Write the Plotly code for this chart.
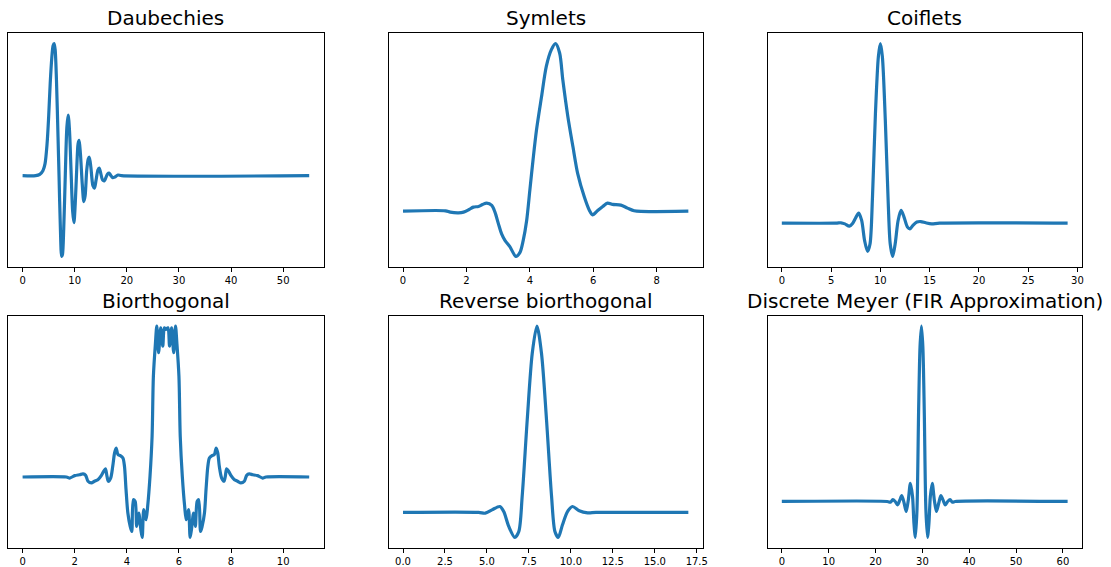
import plotly.graph_objects as go

# ---------------- data ----------------
titles = ["Daubechies", "Symlets", "Coiflets",
          "Biorthogonal", "Reverse biorthogonal", "Discrete Meyer (FIR Approximation)"]

db_x = [0, 2.5, 3.3, 3.9, 4.3, 4.7, 5.0, 5.3, 5.6, 5.85, 6.05, 6.25, 6.5, 6.8, 7.0, 7.25, 7.5, 7.65,
        7.9, 8.2, 8.5, 8.75, 9.0, 9.3, 9.6, 9.85, 10.1, 10.4, 10.65, 10.85, 11.1, 11.45, 11.75, 12.0,
        12.3, 12.6, 12.8, 13.1, 13.5, 13.8, 14.1, 14.45, 14.7, 15.0, 15.35, 15.7, 16.0, 16.3, 16.6,
        16.9, 17.3, 17.7, 18.3, 19.0, 55]
db_y = [0, 0, 0.010, 0.038, 0.089, 0.242, 0.445, 0.700, 0.891, 0.985, 1.0, 0.954, 0.725, 0.293,
        -0.013, -0.394, -0.611, -0.598, -0.394, 0.013, 0.369, 0.458, 0.344, 0.038, -0.267, -0.356,
        -0.216, 0.064, 0.242, 0.267, 0.165, -0.064, -0.196, -0.153, 0.038, 0.127, 0.140, 0.064,
        -0.076, -0.094, -0.033, 0.043, 0.058, 0.018, -0.033, -0.038, -0.013, 0.013, 0.020, 0.003,
        -0.015, -0.010, 0.005, 0, 0]

sym_x = [0, 1.34, 1.49, 1.75, 1.91, 2.07, 2.22, 2.38, 2.51, 2.64, 2.80, 2.90, 3.01, 3.11, 3.22,
         3.37, 3.56, 3.69, 3.79, 3.90, 4.0, 4.10, 4.21, 4.37, 4.52, 4.68, 4.81, 4.94, 5.04, 5.20,
         5.36, 5.51, 5.72, 5.88, 5.98, 6.14, 6.30, 6.45, 6.61, 6.87, 7.08, 7.29, 7.50, 9.0]
sym_y = [0, 0.002, -0.006, -0.010, -0.006, 0.008, 0.024, 0.028, 0.040, 0.048, 0.034, -0.006,
         -0.076, -0.136, -0.176, -0.212, -0.270, -0.246, -0.176, -0.056, 0.124, 0.304, 0.484,
         0.684, 0.864, 0.964, 1.0, 0.944, 0.784, 0.564, 0.384, 0.224, 0.084, 0.004, -0.022, 0.004,
         0.028, 0.048, 0.040, 0.036, 0.018, 0.002, -0.002, 0]

coif_x = [0, 5.5, 6.0, 6.4, 6.85, 7.2, 7.5, 7.8, 8.1, 8.4, 8.7, 8.95, 9.2, 9.5, 9.8, 10.0, 10.2,
          10.5, 10.8, 11.0, 11.25, 11.5, 11.8, 12.1, 12.4, 12.75, 13.0, 13.3, 13.7, 14.1, 14.6,
          15.2, 16, 29]
coif_y = [0, 0, 0.002, -0.004, -0.017, 0, 0.030, 0.056, 0.015, -0.097, -0.157, -0.116, 0.146,
          0.612, 0.929, 1.0, 0.929, 0.575, 0.108, -0.116, -0.185, -0.116, 0.015, 0.071, 0.034,
          -0.022, -0.032, -0.013, 0.006, 0.009, 0.002, -0.004, 0, 0]

bior_x = [0, 1.68, 1.81, 2.0, 2.19, 2.32, 2.42, 2.51, 2.64, 2.76, 2.89, 3.02, 3.11, 3.18, 3.24,
          3.29, 3.38, 3.46, 3.53, 3.59, 3.66, 3.75, 3.85, 3.91, 3.97, 4.04, 4.13, 4.19, 4.25, 4.32,
          4.38, 4.46, 4.54, 4.59, 4.65, 4.74, 4.80, 4.89, 4.97, 5.02, 5.10, 5.15, 5.22, 5.30, 5.38,
          5.44, 5.50, 5.58, 5.64, 5.72, 5.80, 5.87, 5.92, 6.00, 6.05, 6.13, 6.22, 6.28, 6.37, 6.43,
          6.48, 6.56, 6.63, 6.70, 6.76, 6.83, 6.89, 6.98, 7.04, 7.11, 7.17, 7.27, 7.36, 7.43, 7.49,
          7.55, 7.64, 7.73, 7.78, 7.83, 7.91, 8.0, 8.13, 8.25, 8.38, 8.51, 8.60, 8.70, 8.83, 9.02,
          9.21, 9.34, 11]
bior_y = [0, 0, -0.007, 0.009, 0.015, 0.020, 0.011, -0.028, -0.039, -0.028, -0.018, 0.009,
          0.037, 0.053, 0.004, -0.028, -0.007, 0.070, 0.158, 0.190, 0.147, 0.140, 0.125, 0.070,
          -0.083, -0.236, -0.324, -0.357, -0.149, -0.160, -0.324, -0.236, -0.346, -0.396, -0.214,
          -0.280, -0.193, 0.004, 0.267, 0.661, 0.880, 0.989, 0.814, 0.978, 0.858, 0.978, 0.967,
          0.978, 0.858, 0.978, 0.814, 0.989, 0.880, 0.661, 0.267, 0.004, -0.193, -0.280, -0.214,
          -0.396, -0.346, -0.236, -0.324, -0.160, -0.149, -0.357, -0.324, -0.236, -0.083, 0.070,
          0.125, 0.140, 0.147, 0.190, 0.158, 0.070, -0.007, -0.028, 0.004, 0.053, 0.037, 0.009,
          -0.018, -0.028, -0.039, -0.028, 0.011, 0.020, 0.015, 0.009, -0.007, 0, 0]

rbio_x = [0, 4.5, 4.9, 5.3, 5.77, 6.0, 6.3, 6.66, 6.9, 7.1, 7.4, 7.7, 7.98, 8.25, 8.55, 8.85,
          9.05, 9.25, 9.5, 9.8, 10.1, 10.5, 11.0, 11.5, 17]
rbio_y = [0, 0, -0.004, 0.014, 0.032, 0.005, -0.075, -0.134, -0.102, 0.086, 0.496, 0.854, 1.0,
          0.854, 0.496, 0.086, -0.102, -0.134, -0.066, 0.005, 0.032, 0.009, -0.002, 0, 0]

dmey_x = [0, 22.5, 23.2, 23.7, 24.2, 24.7, 25.2, 25.6, 26.1, 26.55, 27.0, 27.45, 27.9, 28.2, 28.5,
          28.85, 29.2, 29.5, 29.8, 30.1, 30.4, 30.75, 31.1, 31.4, 31.7, 32.1, 32.55, 33.0, 33.5,
          33.95, 34.4, 34.9, 35.4, 35.9, 36.4, 37.0, 61]
dmey_y = [0, 0, -0.004, 0.011, 0, -0.019, 0.009, 0.034, -0.009, -0.057, 0.009, 0.104, 0.028,
          -0.123, -0.205, -0.047, 0.522, 0.882, 1.0, 0.882, 0.522, -0.047, -0.205, -0.123, 0.028,
          0.104, 0.009, -0.057, -0.009, 0.034, 0.009, -0.019, 0, 0.011, -0.004, 0, 0]

tick_steps = [10, 2, 5, 2, 2.5, 10]
tick_formats = ["d", "d", "d", "d", ".1f", "d"]

series = [(db_x, db_y), (sym_x, sym_y), (coif_x, coif_y),
          (bior_x, bior_y), (rbio_x, rbio_y), (dmey_x, dmey_y)]

# ---------------- layout geometry ----------------
W, H = 1111, 567
col_px = [(8.3, 325), (390.5, 705.8), (771, 1086.8)]
row_px = [(33, 267), (315.5, 548)]

fig = go.Figure()
annotations = []
LINE = "#1f77b4"
FONT = "DejaVu Sans"

for i, (xs, ys) in enumerate(series):
    r, c = divmod(i, 3)
    ax = "" if i == 0 else str(i + 1)
    fig.add_trace(go.Scatter(x=xs, y=ys, mode="lines",
                             line=dict(color=LINE, width=3.2, shape="spline", smoothing=0.8),
                             xaxis="x" + ax, yaxis="y" + ax, showlegend=False,
                             hoverinfo="skip"))
    xmin, xmax = min(xs), max(xs)
    ymin, ymax = min(ys), max(ys)
    xp = 0.05 * (xmax - xmin)
    yp = 0.05 * (ymax - ymin)
    xd = [col_px[c][0] / W, col_px[c][1] / W]
    yd = [1 - row_px[r][1] / H, 1 - row_px[r][0] / H]
    fig.update_layout(**{
        "xaxis" + ax: dict(domain=xd, range=[xmin - xp, xmax + xp], anchor="y" + ax,
                           showline=True, mirror=True, linecolor="black", linewidth=1,
                           ticks="outside", ticklen=4, tickwidth=1, tickcolor="black",
                           tick0=0, dtick=tick_steps[i], tickformat=tick_formats[i],
                           showgrid=False, zeroline=False,
                           tickfont=dict(family=FONT, size=10, color="black")),
        "yaxis" + ax: dict(domain=yd, range=[ymin - yp, ymax + yp], anchor="x" + ax,
                           showline=True, mirror=True, linecolor="black", linewidth=1,
                           ticks="", showticklabels=False, showgrid=False, zeroline=False),
    })
    annotations.append(dict(text=titles[i], x=(xd[0] + xd[1]) / 2, y=yd[1],
                            xref="paper", yref="paper", xanchor="center", yanchor="bottom",
                            yshift=1, showarrow=False,
                            font=dict(family=FONT, size=20, color="black")))

fig.update_layout(width=W, height=H, margin=dict(l=0, r=0, t=0, b=0),
                  paper_bgcolor="white", plot_bgcolor="white",
                  annotations=annotations)

fig.write_html("out.html", config={"displayModeBar": False},
               post_script="document.body.style.margin='0';")
